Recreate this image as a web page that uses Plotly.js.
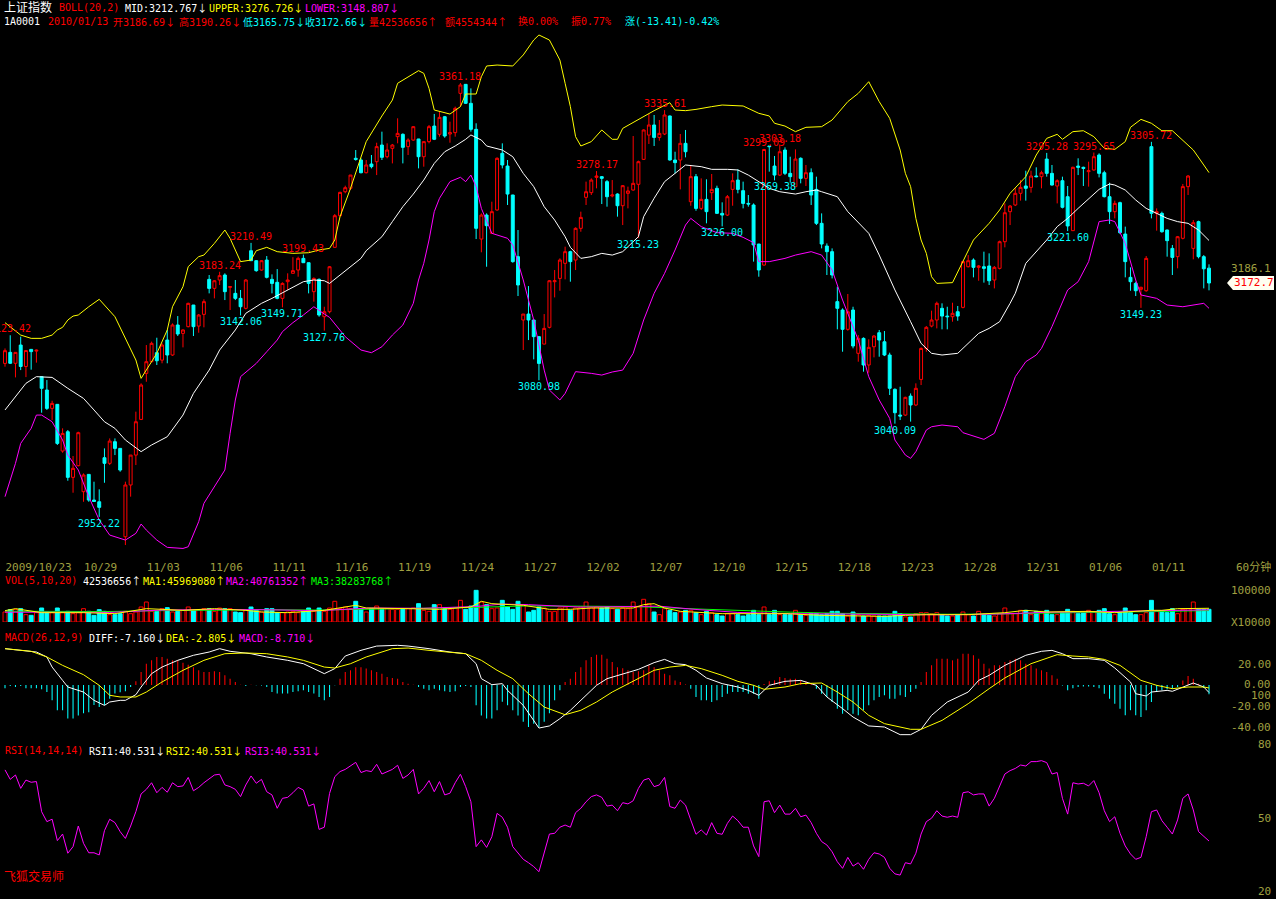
<!DOCTYPE html>
<html><head><meta charset="utf-8">
<script src="https://cdn.plot.ly/plotly-3.0.1.min.js"></script>
<style>html,body{margin:0;padding:0;background:#000;overflow:hidden}#chart{width:1276px;height:899px}</style>
</head><body><div id="chart"></div>
<script>
// ---------- DATA (60-minute bars, SSE Composite 1A0001) ----------
const dateTickIdx = [0,15,27,39,51,63,75,87,99,111,123,135,147,159,171,183,195,207,219];
const dateTickText = ['2009/10/23','10/29','11/03','11/06','11/11','11/16','11/19','11/24','11/27','12/02','12/07','12/10','12/15','12/18','12/23','12/28','12/31','01/06','01/11'];

const openP = [3096.9,3107.3,3097.0,3114.2,3094.0,3110.1,3108.5,3084.4,3071.8,3054.5,3058.3,3014.3,3032.5,2989.5,3000.5,2976.0,2992.3,2968.1,2966.5,3008.0,
3002.7,3023.1,3016.8,2933.5,2982.3,3010.5,3044.1,3087.5,3098.5,3107.0,3100.0,3118.9,3104.8,3133.1,3125.2,3131.5,3151.9,3132.1,3143.1,3176.1,
3167.6,3175.5,3180.2,3168.6,3162.9,3158.2,3148.8,3203.1,3193.7,3184.9,3194.3,3176.1,3173.3,3158.2,3173.9,3181.8,3184.9,3195.9,3191.8,3164.5,
3176.1,3140.9,3145.6,3206.3,3236.1,3258.7,3261.9,3290.2,3288.6,3276.6,3284.8,3287.0,3302.7,3291.7,3299.6,3310.6,3312.8,3301.2,3307.4,3308.4,
3291.7,3305.9,3320.6,3312.8,3329.4,3313.1,3314.4,3351.4,3359.9,3342.0,3317.5,3214.1,3236.7,3219.5,3241.5,3294.9,3282.9,3255.6,3197.5,3137.8,
3143.4,3137.8,3122.1,3115.1,3130.9,3173.9,3177.0,3191.2,3202.2,3194.3,3224.2,3253.4,3257.8,3272.2,3272.9,3268.2,3254.7,3256.5,3245.5,3257.2,
3260.3,3265.7,3289.2,3312.1,3321.6,3309.9,3313.1,3330.1,3288.6,3288.6,3304.3,3249.3,3272.9,3243.0,3251.5,3257.8,3261.9,3238.3,3236.7,3260.9,
3269.7,3259.7,3247.7,3246.2,3209.4,3189.6,3301.8,3282.9,3274.4,3298.0,3276.0,3263.5,3290.2,3271.3,3276.6,3260.9,3228.9,3207.5,3202.2,3155.1,
3147.2,3129.0,3147.2,3106.4,3120.5,3095.4,3112.6,3125.8,3117.3,3104.8,3072.4,3048.2,3048.2,3066.1,3057.7,3081.8,3111.0,3132.1,3137.8,3148.8,
3141.5,3140.9,3145.6,3149.7,3188.0,3194.3,3187.4,3188.0,3188.7,3175.5,3186.5,3211.6,3239.9,3246.2,3257.2,3264.1,3262.8,3273.5,3272.9,3289.5,
3276.0,3264.1,3269.1,3254.0,3222.0,3282.9,3281.7,3277.6,3279.2,3293.3,3276.6,3254.0,3239.9,3248.4,3218.8,3178.0,3172.3,3166.7,3165.4,3301.2,
3238.3,3238.3,3222.6,3205.3,3197.5,3214.8,3263.5,3205.3,3230.5,3197.5,3186.69];
const highP = [3111.0,3123.42,3107.5,3122.1,3109.5,3110.5,3110.0,3084.6,3081.2,3061.7,3058.5,3035.7,3034.1,3009.6,3032.5,2993.2,2992.5,2985.4,2978.2,3016.8,
3026.2,3026.2,3017.0,2985.4,3010.5,3051.4,3078.1,3114.2,3117.4,3121.1,3115.8,3128.4,3134.6,3141.5,3129.0,3154.1,3152.0,3143.4,3157.3,3180.2,
3175.5,3183.24,3181.8,3169.5,3175.5,3166.1,3176.4,3210.49,3194.3,3194.3,3198.1,3180.8,3185.8,3173.3,3181.8,3197.0,3197.5,3199.43,3192.0,3178.0,
3177.0,3150.3,3188.7,3237.7,3258.7,3264.4,3274.5,3298.0,3290.2,3288.6,3293.3,3304.9,3315.3,3304.3,3303.7,3327.9,3313.7,3309.0,3320.6,3308.5,
3306.0,3321.6,3332.0,3334.2,3330.1,3324.7,3338.9,3361.18,3360.2,3356.1,3323.2,3238.3,3238.3,3249.3,3291.1,3304.3,3288.6,3255.8,3222.6,3143.5,
3169.8,3138.0,3122.5,3143.4,3175.5,3184.9,3195.9,3206.9,3203.1,3225.1,3239.9,3268.2,3271.3,3278.17,3273.5,3269.7,3269.7,3257.2,3265.0,3263.5,
3311.2,3288.0,3317.5,3332.0,3331.0,3326.3,3335.61,3330.5,3296.4,3313.1,3316.9,3282.9,3275.4,3271.3,3270.4,3275.4,3264.4,3248.7,3255.6,3276.0,
3279.8,3268.2,3255.6,3247.7,3209.5,3299.09,3302.5,3292.4,3303.18,3300.5,3291.7,3298.6,3291.1,3283.9,3280.7,3272.9,3238.3,3210.0,3205.3,3169.2,
3148.8,3162.3,3150.3,3123.6,3121.4,3119.6,3123.6,3128.4,3127.4,3107.0,3073.4,3074.9,3065.5,3068.6,3078.1,3112.0,3132.1,3146.6,3155.1,3153.5,
3150.3,3154.1,3151.0,3193.7,3199.0,3195.9,3189.6,3202.2,3200.6,3188.7,3212.6,3247.7,3246.2,3261.9,3269.7,3278.5,3278.5,3281.7,3278.5,3295.28,
3283.9,3270.4,3272.9,3264.1,3282.3,3290.2,3282.3,3287.0,3295.65,3294.9,3278.5,3267.2,3250.3,3249.3,3225.8,3187.4,3173.9,3169.2,3198.1,3305.72,
3243.0,3239.9,3223.0,3208.5,3217.0,3266.0,3274.4,3232.0,3231.4,3199.0,3190.26];
const lowP = [3093.8,3096.3,3083.7,3090.6,3084.0,3091.0,3097.6,3050.4,3053.0,3043.5,3020.0,3012.7,2986.3,2975.0,2999.9,2966.5,2966.5,2966.5,2952.22,2984.4,
3001.1,3010.5,2994.8,2925.7,2971.3,3001.1,3043.5,3079.6,3098.0,3095.4,3097.0,3097.0,3104.0,3122.7,3112.0,3130.9,3122.7,3125.8,3130.9,3162.9,
3158.2,3170.8,3156.6,3147.2,3156.6,3142.06,3147.8,3193.7,3183.3,3184.3,3177.0,3162.9,3157.3,3149.71,3166.1,3181.8,3178.6,3191.8,3162.9,3155.1,
3140.9,3127.76,3144.1,3206.0,3235.2,3257.2,3260.3,3288.0,3276.0,3276.0,3280.7,3274.4,3288.6,3290.2,3285.4,3304.3,3285.4,3293.3,3306.8,3280.7,
3282.3,3304.3,3307.4,3310.6,3309.6,3304.9,3310.6,3338.9,3341.4,3315.3,3214.1,3201.6,3188.0,3218.8,3240.8,3280.7,3246.2,3191.8,3160.4,3109.5,
3118.9,3100.7,3080.98,3115.0,3129.9,3159.1,3165.4,3176.1,3173.9,3184.9,3221.0,3246.2,3255.6,3261.9,3247.1,3244.6,3253.4,3235.2,3227.3,3243.0,
3259.7,3215.23,3288.6,3303.7,3301.8,3306.8,3312.1,3288.0,3276.0,3260.9,3291.1,3245.5,3240.8,3241.5,3228.9,3250.9,3237.7,3226.00,3235.8,3245.5,
3257.2,3243.0,3244.6,3192.8,3178.6,3189.0,3277.6,3269.38,3273.5,3274.4,3267.2,3262.8,3266.6,3264.1,3246.2,3227.3,3205.3,3180.2,3177.0,3129.0,
3107.9,3127.7,3111.1,3098.5,3089.1,3088.1,3102.6,3103.2,3103.8,3067.1,3040.09,3043.5,3047.3,3042.0,3056.7,3076.5,3107.9,3130.9,3129.9,3129.0,
3129.0,3136.2,3137.1,3148.8,3187.4,3178.0,3174.8,3173.0,3170.8,3167.6,3185.5,3206.3,3227.3,3245.2,3250.3,3250.3,3257.8,3272.2,3261.9,3272.9,
3264.5,3247.7,3243.0,3221.60,3221.9,3274.4,3264.1,3263.5,3278.5,3272.2,3253.4,3228.3,3233.6,3218.8,3178.0,3165.4,3160.4,3149.23,3164.5,3233.6,
3222.0,3220.1,3197.5,3180.2,3186.5,3213.8,3255.6,3195.0,3195.9,3167.6,3165.75];
const closeP = [3108.9,3097.0,3107.3,3094.0,3109.0,3108.0,3109.3,3073.4,3054.5,3059.2,3021.5,3030.9,2989.5,2998.0,3031.6,2991.7,2968.1,2966.8,2961.2,3002.7,
3023.7,3016.8,2996.4,2982.3,3010.5,3041.9,3076.5,3098.5,3115.8,3099.4,3114.2,3104.8,3133.1,3124.6,3128.4,3153.5,3131.5,3142.5,3155.1,3167.6,
3174.8,3179.6,3164.5,3169.2,3158.2,3150.3,3175.5,3193.7,3184.3,3193.7,3178.0,3172.3,3158.2,3172.3,3175.5,3184.3,3195.9,3191.8,3172.3,3177.0,
3142.5,3145.6,3188.0,3236.1,3258.1,3262.5,3274.4,3289.2,3276.6,3283.9,3282.3,3301.2,3291.1,3298.0,3302.7,3313.7,3300.5,3307.4,3320.0,3291.7,
3305.9,3320.0,3308.1,3328.8,3311.2,3314.4,3337.3,3359.3,3342.0,3317.5,3224.2,3236.7,3226.7,3239.9,3290.2,3283.9,3256.5,3192.8,3170.8,3143.4,
3137.8,3122.1,3096.9,3129.9,3174.8,3174.8,3194.3,3202.2,3192.8,3224.2,3234.5,3258.7,3269.7,3273.5,3271.3,3254.0,3255.6,3245.5,3264.4,3259.4,
3266.6,3287.0,3316.9,3321.6,3309.9,3313.7,3331.0,3288.6,3286.1,3304.3,3296.4,3272.9,3243.0,3251.5,3239.9,3260.9,3238.3,3236.7,3254.0,3269.1,
3260.9,3247.7,3247.1,3208.5,3184.9,3298.5,3301.2,3274.4,3296.4,3276.0,3272.9,3289.5,3271.3,3276.6,3255.6,3228.9,3209.4,3202.2,3180.2,3148.8,
3129.0,3145.6,3113.3,3120.5,3095.4,3112.0,3122.7,3118.9,3104.8,3073.4,3050.4,3047.3,3064.9,3057.7,3073.4,3111.0,3130.9,3137.8,3153.5,3141.5,
3140.9,3144.1,3141.5,3192.8,3193.7,3187.4,3188.7,3186.5,3174.8,3187.4,3211.6,3238.9,3245.2,3257.2,3262.8,3261.9,3273.5,3272.9,3276.6,3276.0,
3265.0,3269.1,3244.0,3226.4,3281.7,3281.7,3280.7,3278.5,3291.7,3276.0,3254.0,3239.9,3247.7,3220.1,3192.8,3173.9,3165.4,3168.6,3195.9,3238.3,
3239.9,3221.0,3212.6,3196.8,3216.3,3263.5,3273.5,3229.5,3197.5,3186.07,3172.66];

// Bollinger (20,2) lines: bar index -> value
const upIdx = [0,3,5,7,9,10,11,12,13,14,16,18,21,23,25,26,27,29,31,32,34,35,37,38,40,42,43,45,47,48,50,52,55,58,60,62,63,64,66,68,69,72,74,75,77,79,80,81,82,84,85,87,88,90,91,92,94,97,99,101,102,104,106,107,108,109,110,112,114,116,117,118,121,122,124,127,128,130,132,135,137,141,144,146,147,149,151,153,156,158,161,163,165,167,169,171,172,173,174,175,176,177,178,181,183,185,188,190,192,195,197,199,201,202,204,206,208,210,212,214,215,217,219,221,223,225,227,229,230];
const upVal = [3135.3,3123.6,3120.5,3120.5,3123.6,3128.4,3130.9,3137.8,3141.5,3142.5,3150.3,3157.3,3140.9,3120.5,3100.1,3082.8,3090.6,3106.4,3128.4,3150.3,3169.2,3188.1,3197.5,3199.0,3210.0,3222.6,3214.7,3192.8,3194.3,3203.1,3206.3,3202.2,3200.6,3201.2,3203.8,3205.3,3213.2,3235.2,3261.9,3291.7,3305.9,3330.1,3345.1,3360.9,3367.1,3372.8,3370.3,3356.1,3335.7,3333.2,3331.9,3338.9,3350.8,3350.8,3367.1,3377.2,3378.1,3377.2,3387.6,3401.7,3406.4,3401.7,3382.8,3360.9,3338.9,3310.6,3301.8,3305.9,3316.9,3308.1,3308.1,3318.4,3326.9,3329.4,3335.1,3342.6,3335.7,3335.1,3336.3,3338.9,3340.4,3339.5,3332.6,3330.1,3323.2,3320.6,3315.3,3319.4,3320.0,3326.3,3343.6,3351.4,3362.4,3343.6,3327.9,3298.0,3276.0,3263.5,3233.6,3213.2,3200.6,3178.6,3172.3,3173.0,3192.8,3213.2,3228.9,3241.5,3257.2,3272.9,3293.3,3309.0,3312.8,3308.1,3315.3,3316.2,3310.6,3299.6,3298.6,3305.9,3319.4,3326.9,3323.2,3316.2,3316.2,3307.4,3298.0,3283.9,3276.726];
const midIdx = [0,2,4,6,9,12,15,17,19,21,23,26,28,31,34,36,39,41,44,46,49,51,54,57,59,61,62,64,66,68,69,72,74,76,78,80,82,84,86,88,89,91,92,95,97,99,101,103,105,107,108,110,112,114,116,118,121,122,124,126,128,130,133,135,138,140,142,144,146,148,151,153,155,156,159,161,165,167,170,173,175,177,179,182,184,186,188,190,192,193,195,197,199,201,203,205,207,209,211,212,214,216,218,220,222,224,226,228,230];
const midVal = [3053.0,3065.5,3078.1,3084.4,3083.7,3073.4,3063.9,3053.0,3041.9,3035.7,3024.7,3013.7,3020.0,3027.8,3048.2,3068.6,3090.6,3109.5,3128.4,3144.1,3153.5,3158.2,3166.1,3173.9,3175.5,3174.8,3172.3,3180.2,3188.1,3195.9,3203.1,3216.3,3230.5,3244.6,3256.5,3269.7,3285.4,3296.4,3301.8,3308.1,3312.2,3307.4,3301.8,3298.0,3291.7,3276.0,3263.5,3244.6,3232.0,3216.3,3206.3,3195.9,3197.5,3200.6,3199.0,3202.2,3216.3,3235.2,3252.5,3268.2,3276.0,3283.9,3282.3,3279.8,3279.8,3279.2,3274.4,3268.2,3261.9,3258.7,3256.5,3258.7,3260.3,3258.7,3254.0,3239.9,3219.5,3199.0,3166.1,3136.2,3115.8,3106.4,3104.8,3106.4,3115.8,3125.2,3129.9,3136.2,3153.5,3163.0,3191.2,3202.2,3213.2,3225.8,3233.6,3243.0,3251.5,3260.9,3266.0,3265.0,3260.3,3250.9,3243.0,3238.3,3233.6,3230.5,3228.9,3222.6,3212.767];
const lowIdx = [0,1,2,3,5,6,7,9,11,12,14,16,18,20,21,23,25,26,27,29,31,34,35,37,38,40,42,43,44,45,47,48,50,52,53,55,57,59,61,62,65,68,70,72,74,76,78,79,80,81,82,83,85,87,88,89,90,91,93,96,97,99,101,103,104,106,107,109,112,114,116,118,120,122,124,126,128,130,131,133,136,139,141,143,144,146,149,151,154,156,158,160,163,165,167,169,170,172,173,174,176,177,179,182,183,185,187,189,191,193,195,197,198,200,202,203,205,207,209,211,212,214,216,217,220,222,225,227,229,230];
const lowVal = [2971.3,2987.0,3002.7,3021.5,3035.7,3048.2,3048.2,3041.9,3024.7,3010.5,2996.4,2971.3,2949.3,2935.1,2933.6,2930.4,2936.7,2945.5,2939.8,2930.4,2923.5,2922.5,2924.1,2947.7,2965.0,2980.7,2996.4,3031.0,3062.4,3084.4,3092.2,3096.9,3107.9,3118.9,3126.8,3135.3,3142.5,3150.3,3143.4,3140.3,3122.1,3109.5,3107.0,3112.6,3123.6,3133.1,3153.5,3175.5,3191.2,3213.2,3239.9,3252.5,3268.2,3272.3,3268.2,3274.4,3263.5,3243.0,3219.5,3214.8,3208.5,3175.5,3137.8,3090.6,3071.8,3062.4,3068.6,3089.1,3087.5,3085.9,3088.8,3090.6,3106.4,3137.8,3162.9,3181.8,3203.8,3227.3,3233.6,3225.8,3220.1,3219.5,3215.7,3210.7,3192.8,3192.8,3195.9,3199.0,3202.2,3199.0,3184.9,3156.6,3118.9,3084.4,3062.4,3045.1,3024.7,3010.5,3007.4,3013.7,3034.1,3037.2,3038.8,3037.2,3031.6,3028.4,3025.3,3031.0,3056.1,3084.4,3098.5,3104.8,3111.1,3131.5,3153.5,3166.1,3173.9,3192.8,3230.5,3232.1,3230.5,3210.0,3175.5,3161.4,3158.2,3151.9,3150.3,3151.9,3153.5,3148.807];

// marked highs / lows
const markIdx = [1,41,47,57,87,113,126,145,148,199,208,219,18,45,53,61,102,121,137,147,170,203,217];
const markVal = [3123.42,3183.24,3210.49,3199.43,3361.18,3278.17,3335.61,3299.09,3303.18,3295.28,3295.65,3305.72,2952.22,3142.06,3149.71,3127.76,3080.98,3215.23,3226.00,3269.38,3040.09,3221.60,3149.23];
const markIsHigh = [1,1,1,1,1,1,1,1,1,1,1,1,0,0,0,0,0,0,0,0,0,0,0];

// volume (x10000 shares)
const volume = [3350,4130,4240,4470,2460,2230,3130,4690,3350,3130,4690,3350,3570,2790,3130,4470,3570,2230,4130,3570,
2460,2460,2790,3570,2790,3350,5030,6700,3570,3570,4470,4800,3350,3570,3910,5030,3910,4130,4470,4470,
3570,4690,4470,4470,3350,3130,3910,5030,3910,3350,4470,4470,3130,3130,3350,3570,3130,3570,4690,3570,
4690,3570,4690,6930,4470,5030,4470,6930,4470,3350,4470,5360,4240,4470,4240,4240,4470,4470,4690,6140,
3910,3570,5810,5810,4470,4240,4690,7260,4240,5360,10610,6700,5810,4470,4690,7260,5030,4240,6930,5810,
3350,3910,5030,4690,3570,3570,4690,5030,3910,4690,5030,6700,4690,5030,4690,5030,4470,4240,4690,4470,
6700,5030,7600,6140,3350,2460,4470,3910,3130,3350,3910,3910,3130,2460,3570,3130,2460,2010,2790,2790,
2460,2010,2460,3910,2460,5030,2460,3910,2460,2460,2460,3910,2460,2230,2790,2790,2460,2790,3570,3570,
2790,2010,3350,2460,2010,2230,2010,2010,2010,2010,3570,2790,1680,1680,2790,3130,3130,2790,3130,2460,
2010,2010,2460,3350,2460,2010,3570,2460,2230,2010,2790,4690,2790,2790,3910,3910,2460,3570,3570,3910,
2460,2460,3130,4240,3570,2790,3130,3910,3350,3910,4470,2790,2460,3130,4690,3130,2460,2460,3130,7260,
3570,3570,3130,4470,2790,4240,4470,6700,4240,4240,4253.67];
const vma1Idx = [0,2,7,15,21,26,27,30,34,40,46,49,54,61,64,67,69,73,77,83,89,91,93,99,102,104,108,112,120,122,124,126,129,133,137,145,149,156,164,168,172,176,184,191,195,199,207,212,219,221,224,227,230];
const vma1Val = [3800,4470,3130,3130,2790,4240,4470,4240,3910,4470,3910,3350,3130,3910,4690,5590,4690,4690,4470,4240,5030,6930,6140,5590,4690,4240,4240,4690,4690,5810,6140,4690,3570,3130,2790,2790,2790,2230,2010,1900,2230,2460,2460,3130,3910,3350,3570,3130,3910,3910,4470,4470,4596.908];
const vma2Idx = [0,9,20,30,40,50,60,70,80,90,95,100,110,120,125,132,140,150,160,170,180,190,200,210,220,230];
const vma2Val = [3300,3300,3200,4000,4200,4100,3800,4700,4600,5200,6000,5800,5000,5200,5300,4200,3200,2800,2700,2400,2400,2700,3300,3500,3700,4076.1352];
const vma3Idx = [0,10,19,30,40,50,60,70,80,90,100,110,120,130,140,150,160,170,180,190,200,210,220,230];
const vma3Val = [3600,3600,3500,3800,4000,4100,4000,4400,4600,4900,5400,5300,5200,4500,3800,3300,2900,2700,2600,2700,3100,3300,3500,3828.3768];

// MACD(26,12,9)
const diffIdx = [0,6,8,9,11,12,15,17,19,20,22,23,25,26,28,30,33,36,39,41,43,47,50,54,57,59,61,63,65,68,71,75,77,81,85,88,90,91,93,95,96,99,101,102,104,106,108,110,113,115,117,121,124,126,128,130,132,134,137,140,142,144,145,146,149,152,155,157,160,162,165,168,171,173,175,177,180,184,186,188,191,195,198,200,202,204,207,210,212,215,216,218,219,222,223,226,227,229,230];
const diffVal = [34.6,31.4,26.7,17.1,4.4,-1.9,-6.7,-14.6,-19.4,-16.2,-14.6,-14.6,-9.2,-1.9,10.8,17.1,23.5,28.3,31.4,34.6,32.1,29.8,26.7,23.5,20.3,15.6,10.8,15.6,27.6,33.0,37.1,37.8,37.1,34.6,31.4,29.8,20.3,6.0,0.3,1.3,-5.1,-19.4,-33.7,-41.0,-39.0,-32.1,-24.1,-14.6,-0.3,6.0,9.2,14.9,21.3,24.4,20.3,19.4,14.0,6.7,1.3,-1.9,-5.1,-9.8,-5.1,-0.3,3.5,4.4,-0.3,-11.4,-22.5,-30.5,-39.0,-40.0,-47.3,-47.3,-42.2,-28.9,-16.2,-6.7,4.4,9.2,18.7,28.3,32.1,33.0,29.8,25.1,25.1,23.5,16.2,2.9,-8.3,-10.5,-6.7,-5.1,-6.0,0.3,1.9,-1.9,-7.16];
const deaIdx = [0,5,8,11,15,18,20,22,25,27,30,34,38,42,46,50,54,57,61,63,66,69,74,77,81,85,88,91,94,97,100,103,107,110,113,116,119,121,124,127,130,133,137,140,143,145,149,152,156,159,162,165,168,173,175,179,184,188,191,196,201,204,207,210,213,217,220,223,226,229,230];
const deaVal = [34.6,32.1,26.7,18.7,9.8,-0.3,-9.8,-11.4,-11.4,-6.7,2.9,14.0,23.5,29.8,30.5,29.8,26.7,23.5,17.1,16.2,20.3,26.7,34.6,35.2,33.0,31.4,29.8,23.5,14.0,6.0,-8.3,-21.0,-28.3,-24.1,-16.2,-6.7,1.3,6.3,14.0,17.1,18.7,15.6,9.2,3.5,-0.3,-4.1,-1.9,1.3,1.9,-6.7,-16.2,-28.9,-36.8,-42.2,-42.2,-33.7,-17.8,-3.5,6.7,20.3,28.9,27.6,26.7,24.4,18.7,4.4,-0.3,-3.5,-1.9,-1.9,-2.805];
const macdBar = [-3,-1,-2,-1,-3,-3,-3,-4,
-6.7,-14.6,-24,-24,-32,-32,-29,-27,-26,-19,-21,-19,-13,-8,-7,-6,-2,
3.5,12.4,20.3,23.5,26.7,26.7,25,23.5,23.5,21.3,19.4,17,14,12.4,12.4,13,12.4,9.2,6,2.9,
0.3,-1,0.2,-0.3,-0.5,
-2,-6.7,-8,-8,-8,-6.7,-6,-5,-6.7,-8,-11.4,-14.6,-11.4,-0.3,
6,12.4,14,17,17,15.6,14,12.4,10.8,7.6,6.7,6,2.9,1.3,
0.2,-2,-3.5,-5,-3.5,-5,-6,-6.7,-6,-2,-1,
-2,-19.4,-29,-32,-32,-24,-16,-19.4,-24,-29,-35,-40,-36.8,-40,-35,-27,-14.6,-5,
2.9,6,12.4,17,23.5,26.7,28.9,28.9,25,21.9,17,16,14,12.4,13,
14,18.7,17,14,10.8,9.2,4.4,2.9,
0.5,-3.5,-11.4,-14.6,-14.6,-16.2,-14.6,-11.4,-8.3,-6.7,-6.7,-6.7,-8.3,-8.3,-13,
1,3.5,4.4,7.6,6.7,6,6,4.4,3.5,1.3,
-3.5,-8.3,-11.4,-16.2,-22.5,-27.3,-24,-27.3,-28.9,-24,-19.4,-14.6,-11.4,-9.8,-13,-13,-9.8,-11.4,-6.7,-3.5,
2.9,12.4,18.7,25,25,25,23.5,25,29.8,29.8,28.3,25,20.3,15.6,18.7,18.7,21.9,23.5,25,23.5,20.3,18.7,15.6,14,12.4,9.2,6,
-0.5,
-5,-3,-2,-1.5,-1.5,-2,-3,-8.3,-13,-17.8,-22.5,-28.9,-24,-28.9,-30.5,-24,-16.2,-6.7,-5,-4,-3.5,-2,4.4,8.6,6,1.3,-2.9,-8.71];

// RSI(14)
const rsi = [69.8,65.9,67.7,62.2,65.6,64.7,65.0,52.6,48.5,49.5,
40.7,43.4,35.5,38.2,46.7,39.6,35.7,35.7,34.8,44.8,
49.5,48.1,44.4,41.6,46.7,52.6,59.9,61.8,64.5,60.4,
62.6,60.6,64.5,62.9,63.2,66.7,61.2,62.6,64.5,66.3,
67.7,68.0,63.6,62.9,61.8,58.8,63.6,67.3,64.3,65.9,
60.8,59.5,54.0,58.1,58.5,60.4,62.6,61.5,54.9,55.8,
45.3,46.2,60.1,67.0,69.1,70.0,71.4,72.9,68.7,69.5,
69.1,72.1,68.1,69.1,70.0,71.7,66.3,67.7,70.0,59.9,
62.2,65.4,60.8,65.0,59.5,60.2,64.5,68.0,62.9,56.7,
38.2,41.0,37.9,42.3,51.9,50.3,46.2,38.2,35.5,33.0,
31.6,30.0,27.9,35.7,43.4,43.7,46.2,47.1,46.2,52.2,
54.0,56.7,58.8,59.5,58.5,54.9,55.3,53.0,56.3,55.8,
57.1,62.2,65.6,66.3,62.9,63.6,66.7,54.7,54.0,57.4,
55.3,49.2,43.3,45.1,43.0,48.1,43.7,43.3,47.8,50.8,
48.9,46.2,46.2,38.5,34.1,56.7,57.1,52.2,55.3,51.6,
51.6,54.0,50.5,51.2,48.1,43.7,40.3,38.9,36.1,32.0,
29.3,33.8,30.2,31.6,28.9,33.0,35.7,35.2,33.8,29.3,
27.0,26.5,31.6,31.1,35.5,43.4,48.5,49.9,53.0,50.8,
50.3,50.8,50.3,60.4,60.8,59.5,59.9,59.9,54.9,58.1,
62.9,68.1,69.5,70.4,71.8,71.4,73.2,73.2,73.6,72.8,
68.1,68.7,58.1,51.6,64.5,64.0,64.3,63.2,65.4,60.4,
53.0,48.5,50.5,43.7,38.5,35.2,33.0,33.8,42.3,52.6,
53.3,48.9,46.2,43.4,49.2,58.1,59.9,53.3,44.4,42.3,
40.531];

// ---------- STYLE / LAYOUT ----------
const RED='#ff0000', CYAN='#00ffff', YEL='#ffff00', MAG='#ff00ff', WHT='#ffffff', GRN='#00ff00', OLV='#a0a040';
const MONO='"DejaVu Sans Mono","Noto Sans CJK SC",monospace';
const W=1220, H=899;
const N=closeP.length;
const idx=Array.from({length:N},(_,i)=>i);
const px=x=>x/W, py=y=>1-y/H;
// full-width arrows as in the original GBK font
const DN=`<span style="font-family:'Noto Sans CJK SC'">↓</span>`;
const UP=`<span style="font-family:'Noto Sans CJK SC'">↑</span>`;

const up = idx.map(i=>closeP[i]>=openP[i]);
const traces=[
 {type:'candlestick',x:idx,open:openP,high:highP,low:lowP,close:closeP,xaxis:'x',yaxis:'y',whiskerwidth:0,
  increasing:{line:{color:RED,width:1},fillcolor:'#000000'},decreasing:{line:{color:CYAN,width:1},fillcolor:CYAN},hoverinfo:'skip'},
 {type:'scatter',mode:'lines',x:upIdx,y:upVal,line:{color:YEL,width:1},xaxis:'x',yaxis:'y',hoverinfo:'skip'},
 {type:'scatter',mode:'lines',x:midIdx,y:midVal,line:{color:WHT,width:1},xaxis:'x',yaxis:'y',hoverinfo:'skip'},
 {type:'scatter',mode:'lines',x:lowIdx,y:lowVal,line:{color:MAG,width:1},xaxis:'x',yaxis:'y',hoverinfo:'skip'},
 {type:'bar',x:idx,y:volume,width:0.75,xaxis:'x',yaxis:'y2',
  marker:{color:up.map(u=>u?'#000000':CYAN),line:{color:up.map(u=>u?RED:CYAN),width:1}},hoverinfo:'skip'},
 {type:'scatter',mode:'lines',x:vma3Idx,y:vma3Val,line:{color:GRN,width:1},xaxis:'x',yaxis:'y2',hoverinfo:'skip'},
 {type:'scatter',mode:'lines',x:vma2Idx,y:vma2Val,line:{color:MAG,width:1},xaxis:'x',yaxis:'y2',hoverinfo:'skip'},
 {type:'scatter',mode:'lines',x:vma1Idx,y:vma1Val,line:{color:YEL,width:1},xaxis:'x',yaxis:'y2',hoverinfo:'skip'},
 {type:'bar',x:idx,y:macdBar,width:0.2,xaxis:'x',yaxis:'y3',marker:{color:macdBar.map(v=>v>=0?RED:CYAN),line:{width:0}},hoverinfo:'skip'},
 {type:'scatter',mode:'lines',x:diffIdx,y:diffVal,line:{color:WHT,width:1},xaxis:'x',yaxis:'y3',hoverinfo:'skip'},
 {type:'scatter',mode:'lines',x:deaIdx,y:deaVal,line:{color:YEL,width:1},xaxis:'x',yaxis:'y3',hoverinfo:'skip'},
 {type:'scatter',mode:'lines',x:idx,y:rsi,line:{color:MAG,width:1},xaxis:'x',yaxis:'y4',hoverinfo:'skip'}
];

const ann=[];
function T(x,y,text,color,anchor,size){ann.push({xref:'paper',yref:'paper',x:px(x),y:py(y),text:text,showarrow:false,
  xanchor:anchor||'left',yanchor:'middle',font:{family:MONO,size:size||10,color:color}});}
// headers
T(2,7,'上证指数',WHT,'left',12); T(57,7,'BOLL(20,2)',RED); T(123,7,'MID:3212.767'+DN,WHT); T(207,7,'UPPER:3276.726'+DN,YEL); T(303,7,'LOWER:3148.807'+DN,MAG);
T(2,21,'1A0001',WHT); T(46,21,'2010/01/13',RED); T(111,21,'开3186.69'+DN,RED); T(177,21,'高3190.26'+DN,RED); T(241,21,'低3165.75'+DN,CYAN);
T(303,21,'收3172.66'+DN,CYAN); T(367,21,'量42536656'+UP,RED); T(443,21,'额4554344'+UP,RED); T(516,21,'换0.00%',RED); T(569,21,'振0.77%',RED); T(623,21,'涨(-13.41)-0.42%',CYAN);
T(3,580,'VOL(5,10,20)',RED); T(81,580,'42536656'+UP,WHT); T(141,580,'MA1:45969080'+UP,YEL); T(224,580,'MA2:40761352'+UP,MAG); T(309,580,'MA3:38283768'+UP,GRN);
T(3,637,'MACD(26,12,9)',RED); T(87,637,'DIFF:-7.160'+DN,WHT); T(164,637,'DEA:-2.805'+DN,YEL); T(237,637,'MACD:-8.710'+DN,MAG);
T(3,750,'RSI(14,14,14)',RED); T(87,750,'RSI1:40.531'+DN,WHT); T(164,750,'RSI2:40.531'+DN,YEL); T(243,750,'RSI3:40.531'+DN,MAG);
T(2,876,'飞狐交易师',RED,'left',12);
// right side labels
T(1273,268,'3186.1',OLV,'right',11);
T(1273,567,'60分钟',OLV,'right',11); T(1273,590,'100000',OLV,'right',11); T(1273,622,'X10000',OLV,'right',11);
T(1273,664,'20.00',OLV,'right',11); T(1273,684,'0.00',OLV,'right',11); T(1273,695,'100',OLV,'right',11);
T(1273,706,'-20.00',OLV,'right',11); T(1273,727,'-40.00',OLV,'right',11); T(1273,744,'80',OLV,'right',11);
T(1273,818,'50',OLV,'right',11); T(1273,891,'20',OLV,'right',11);
T(1254,283,'3172.7',RED,'center',11);
// extreme marks
markIdx.forEach((k,j)=>{const hi=markIsHigh[j];ann.push({xref:'x',yref:'y',x:k,y:markVal[j],text:markVal[j].toFixed(2),showarrow:false,
  xanchor:'center',yanchor:hi?'bottom':'top',yshift:hi?-1:1,font:{family:MONO,size:10,color:hi?RED:CYAN}});});

const P=(x,y)=>px(x)+','+py(y);
const shapes=[{type:'path',xref:'paper',yref:'paper',path:'M'+P(1227,283)+' L'+P(1233,276)+' L'+P(1274,276)+' L'+P(1274,290)+' L'+P(1233,290)+' Z',
  fillcolor:'#fffff0',line:{width:0},layer:'below'}];

const yMain=[ (3439.4-553*0.9425), (3439.4-30*0.9425) ];
const layout={width:1276,height:899,paper_bgcolor:'#000',plot_bgcolor:'#000',margin:{l:0,r:56,t:0,b:0},showlegend:false,
 boxgap:0.2,barmode:'overlay',font:{family:MONO,color:OLV},hovermode:false,
 xaxis:{domain:[0,1],range:[-0.955,232.1],anchor:'y',showgrid:false,zeroline:false,showline:false,fixedrange:true,
   rangeslider:{visible:false},tickmode:'array',tickvals:dateTickIdx,ticktext:dateTickText,ticks:'outside',ticklen:9,tickcolor:'rgba(0,0,0,0)',
   ticklabelposition:'outside right',ticklabelstandoff:4,tickfont:{family:MONO,size:11,color:OLV}},
 yaxis:{domain:[py(553),py(30)],range:yMain,visible:false,fixedrange:true},
 yaxis2:{domain:[py(622),py(588)],range:[0,11390],visible:false,fixedrange:true,anchor:'x'},
 yaxis3:{domain:[py(742),py(643)],range:[-(742-685)/1.05,(685-643)/1.05],visible:false,fixedrange:true,anchor:'x'},
 yaxis4:{domain:[py(897),py(752)],range:[50-(897-818)/2.43,50+(818-752)/2.43],visible:false,fixedrange:true,anchor:'x'},
 annotations:ann,shapes:shapes};
Plotly.newPlot('chart',traces,layout,{staticPlot:true,displayModeBar:false});
</script></body></html>
